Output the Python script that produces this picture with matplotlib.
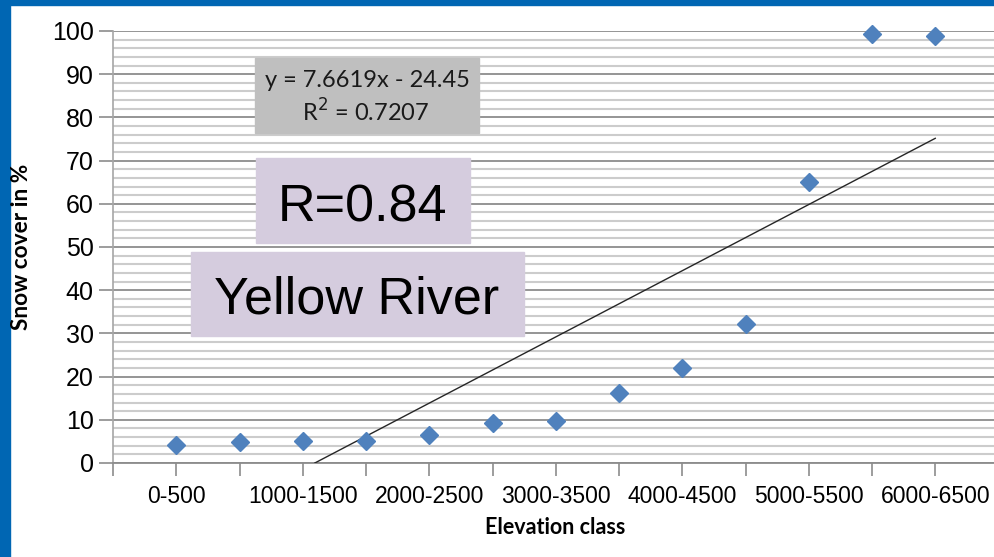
import matplotlib
matplotlib.use("Agg")
import matplotlib.pyplot as plt
import numpy as np
from matplotlib.patches import Rectangle

# ---------------- data ----------------
categories = ['0-500', '500-1000', '1000-1500', '1500-2000', '2000-2500',
               '2500-3000', '3000-3500', '3500-4000', '4000-4500',
               '4500-5000', '5000-5500', '5500-6000', '6000-6500']
snow_cover = [4.2, 4.9, 5.1, 5.1, 6.5, 9.3, 9.7, 16.2, 22.0, 32.2, 65.0, 99.3, 98.8]
slope = 7.6619
intercept = -24.45
r_squared = 0.7207
r_value = 0.84
basin = 'Yellow River'
y_ticks = [0, 10, 20, 30, 40, 50, 60, 70, 80, 90, 100]

W, H = 994, 557
fig = plt.figure(figsize=(W / 100, H / 100), dpi=100)
fig.patch.set_facecolor('white')

def fx(px):
    return px / W

def fy(py):
    return 1 - py / H

# blue frame (left + top)
fig.add_artist(Rectangle((0, 0), fx(10), 1, transform=fig.transFigure,
                         color='#0066B3', zorder=0))
fig.add_artist(Rectangle((0, fy(5)), 1, 5 / H, transform=fig.transFigure,
                         color='#0066B3', zorder=0))

left, right = 113, 994
top, bottom = 31, 463
ax = fig.add_axes([fx(left), fy(bottom), fx(right - left), (bottom - top) / H])
ax.set_facecolor('none')

x = np.arange(1, len(categories) + 1)
ax.set_xlim(0, (right - left) / 63.25)
ax.set_ylim(0, 100)

# grid
ax.set_yticks(y_ticks)
ax.set_yticks(np.arange(0, 101, 2), minor=True)
ax.grid(True, axis='y', which='minor', color='#CCCCCC', lw=1.5, zorder=1)
ax.grid(True, axis='y', which='major', color='#8C8C8C', lw=1.3, zorder=1)
ax.tick_params(axis='y', which='minor', length=0)
ax.tick_params(axis='y', which='major', length=10, width=1.2, color='#8C8C8C',
               pad=4, labelsize=18)
for lab in ax.get_yticklabels():
    lab.set_fontfamily('Liberation Sans')

ax.set_xticks(np.arange(0, len(categories) + 1))
xlabels = [''] + [c if i % 2 == 0 else '' for i, c in enumerate(categories)]
ax.set_xticklabels(xlabels, fontfamily='Liberation Sans', fontsize=16.5)
ax.tick_params(axis='x', length=9, width=1.2, color='#8C8C8C', pad=7)

for s in ['top', 'right']:
    ax.spines[s].set_visible(False)
ax.spines['left'].set_color('#A6A6A6')
ax.spines['left'].set_linewidth(1.2)
ax.spines['bottom'].set_color('#8C8C8C')
ax.spines['bottom'].set_linewidth(1.3)

# data points
ax.plot(x, snow_cover, linestyle='none', marker='D', ms=9.5,
        color='#4F81BD', mec='#4F81BD', zorder=4, clip_on=False)

# linear trendline from the stated equation
x0 = -intercept / slope
xt = np.array([x0, x[-1]])
ax.plot(xt, slope * xt + intercept, color='#262626', lw=1.0, zorder=3)

# equation box
fig.add_artist(Rectangle((fx(255), fy(133)), fx(479 - 255), (133 - 58) / H,
                         transform=fig.transFigure, color='#BFBFBF', zorder=5))
fig.text(fx(367), fy(87), f'y = {slope}x - {abs(intercept)}', ha='center',
         va='baseline', fontsize=17, family='Lato', color='#1a1a1a', zorder=6)
fig.text(fx(366), fy(122), f'R$^2$ = {r_squared}', ha='center',
         va='baseline', fontsize=17, family='Lato', color='#1a1a1a', zorder=6)

# R box
fig.add_artist(Rectangle((fx(256), fy(243)), fx(470 - 256), (243 - 158) / H,
                         transform=fig.transFigure, color='#D5CCDE', zorder=5))
fig.text(fx(363), fy(221), f'R={r_value}', ha='center', va='baseline',
         fontsize=37.5, family='Liberation Sans', color='black', zorder=6)

# basin box
fig.add_artist(Rectangle((fx(191), fy(336)), fx(524 - 191), (336 - 252) / H,
                         transform=fig.transFigure, color='#D5CCDE', zorder=5))
fig.text(fx(357), fy(314), basin, ha='center', va='baseline',
         fontsize=37.5, family='Liberation Sans', color='black', zorder=6)

# axis titles
fig.text(fx(22), fy(247), 'Snow cover in %', rotation=90, ha='center',
         va='center', fontsize=16.3, fontweight='bold', family='Lato')
fig.text(fx(555), fy(528), 'Elevation class', ha='center', va='center',
         fontsize=15.5, fontweight='bold', family='Lato')

fig.savefig('out.png', dpi=100)
